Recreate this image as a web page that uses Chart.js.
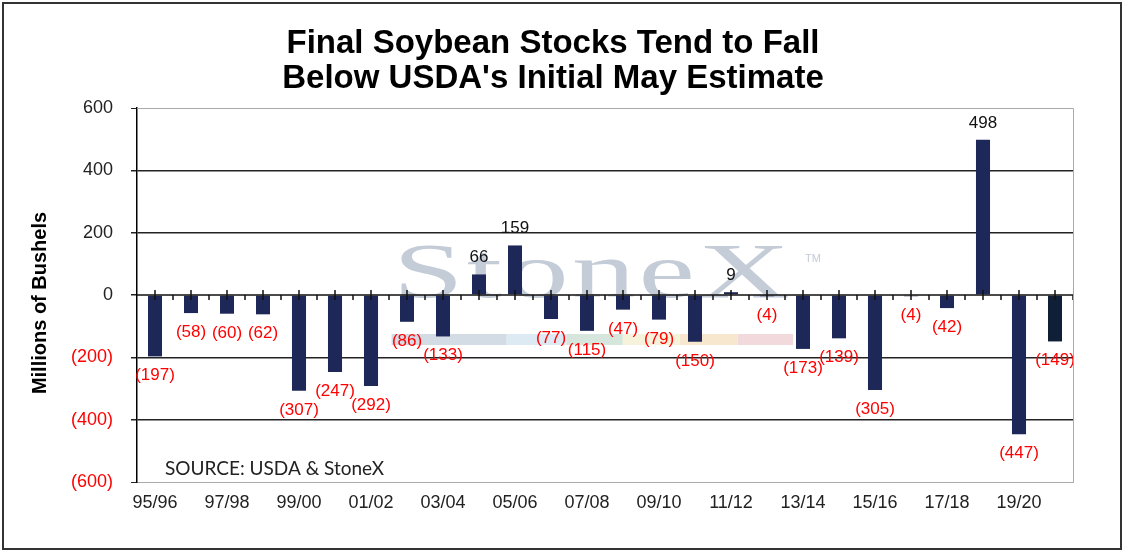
<!DOCTYPE html>
<html>
<head>
<meta charset="utf-8">
<script src="https://cdn.jsdelivr.net/npm/chart.js@4"></script>
<style>
  html, body { margin: 0; padding: 0; background: #fff; }
  #wrap { width: 1127px; height: 555px; position: relative; }
</style>
</head>
<body>
<div id="wrap"><canvas id="stocksChart"></canvas></div>
<script>
// marketing years, final stocks minus USDA's initial May estimate (mil bu)
const seasons = ['95/96', '96/97', '97/98', '98/99', '99/00', '00/01', '01/02', '02/03', '03/04',
  '04/05', '05/06', '06/07', '07/08', '08/09', '09/10', '10/11', '11/12', '12/13', '13/14',
  '14/15', '15/16', '16/17', '17/18', '18/19', '19/20', '20/21'];
const finalVsMay = [-197, -58, -60, -62, -307, -247, -292, -86, -133,
  66, 159, -77, -115, -47, -79, -150, 9, -4, -173,
  -139, -305, -4, -42, 498, -447, -149];
const yTickValues = [-600, -400, -200, 0, 200, 400, 600];

const ARIAL = "'Liberation Sans', Arial, sans-serif";
const BAR = '#1e2858';
const RED = '#ff0000';

function fmt(v) {
  return v < 0 ? '(' + (-v) + ')' : String(v);
}

// watermark + faint colour strip behind the bars
const watermark = {
  id: 'watermark',
  beforeDatasetsDraw(chart) {
    const { ctx, chartArea: a } = chart;
    const w = a.right - a.left;
    ctx.save();
    const strip = ['#d3dbe5', '#dde9f3', '#d6e6dd', '#f6f3dc', '#f8e7cf', '#f1d9dc'];
    const edges = [0.272, 0.395, 0.459, 0.519, 0.580, 0.642, 0.701];
    strip.forEach((c, i) => {
      ctx.fillStyle = c;
      ctx.fillRect(a.left + edges[i] * w, 334, (edges[i + 1] - edges[i]) * w, 11);
    });
    ctx.fillStyle = '#c4ccd8';
    ctx.font = "78px 'Liberation Serif', 'DejaVu Serif', serif";
    ctx.letterSpacing = '2px';
    const tw = ctx.measureText('StoneX').width;
    ctx.translate(393, 297);
    ctx.scale(400 / tw, 1);
    ctx.textBaseline = 'alphabetic';
    ctx.fillText('StoneX', 0, 0);
    ctx.restore();
    ctx.save();
    ctx.fillStyle = '#c4ccd8';
    ctx.font = '11px ' + ARIAL;
    ctx.fillText('TM', 805, 262);
    ctx.restore();
  }
};

// zero axis line with category ticks, and value labels
const zeroAxis = {
  id: 'zeroAxis',
  afterDatasetsDraw(chart) {
    const { ctx, chartArea: a, scales: { x, y } } = chart;
    const y0 = y.getPixelForValue(0);
    const half = (x.getPixelForValue(1) - x.getPixelForValue(0)) / 2;
    ctx.save();
    ctx.strokeStyle = '#111';
    ctx.lineWidth = 1.5;
    ctx.beginPath();
    ctx.moveTo(a.left, y0);
    ctx.lineTo(a.right, y0);
    seasons.forEach((s, i) => {
      const cx = x.getPixelForValue(i);
      ctx.moveTo(cx, y0 - 5);
      ctx.lineTo(cx, y0 + 5);
      ctx.moveTo(cx + half, y0);
      ctx.lineTo(cx + half, y0 + 5);
    });
    ctx.stroke();

    ctx.font = '17px ' + ARIAL;
    ctx.textAlign = 'center';
    ctx.textBaseline = 'alphabetic';
    const meta = chart.getDatasetMeta(0);
    meta.data.forEach((bar, i) => {
      const v = finalVsMay[i];
      if (v >= 0) {
        ctx.fillStyle = '#111';
        ctx.fillText(fmt(v), bar.x, bar.y - 12);
      } else {
        ctx.fillStyle = RED;
        ctx.fillText(fmt(v), bar.x, bar.y + 24);
      }
    });
    ctx.restore();
  }
};

// titles, plot frame, source note and outer border
const decor = {
  id: 'decor',
  afterDraw(chart) {
    const { ctx, chartArea: a } = chart;
    ctx.save();
    ctx.strokeStyle = '#aaa';
    ctx.lineWidth = 1;
    ctx.beginPath();
    ctx.moveTo(a.left, a.top + 0.5);
    ctx.lineTo(a.right + 0.5, a.top + 0.5);
    ctx.lineTo(a.right + 0.5, a.bottom);
    ctx.stroke();

    ctx.fillStyle = '#000';
    ctx.textAlign = 'center';
    ctx.textBaseline = 'alphabetic';
    ctx.font = 'bold 33px ' + ARIAL;
    ctx.fillText('Final Soybean Stocks Tend to Fall', 553, 53);
    ctx.fillText("Below USDA's Initial May Estimate", 553, 88);

    ctx.save();
    ctx.textBaseline = 'middle';
    ctx.translate(40, 303);
    ctx.rotate(-Math.PI / 2);
    ctx.font = 'bold 20px ' + ARIAL;
    ctx.fillText('Millions of Bushels', 0, 0);
    ctx.restore();

    ctx.textAlign = 'left';
    ctx.textBaseline = 'middle';
    ctx.fillStyle = '#222';
    ctx.font = "19px Lato, 'Open Sans', sans-serif";
    ctx.fillText('SOURCE: USDA & StoneX', 165, 469);

    ctx.strokeStyle = '#333';
    ctx.lineWidth = 2;
    ctx.strokeRect(3, 3, 1118, 546);
    ctx.restore();
  }
};

const ctx = document.getElementById('stocksChart').getContext('2d');
const stocksChart = new Chart(ctx, {
  type: 'bar',
  data: {
    labels: seasons,
    datasets: [{
      label: 'Final vs May estimate',
      data: finalVsMay,
      backgroundColor: seasons.map((s, i) => i === seasons.length - 1 ? '#0f1f38' : BAR),
      categoryPercentage: 1,
      barPercentage: 0.39
    }]
  },
  options: {
    responsive: true,
    maintainAspectRatio: false,
    animation: false,
    layout: { padding: { top: 108, right: 54, bottom: 0, left: 0 } },
    plugins: {
      legend: { display: false },
      title: { display: false },
      tooltip: { enabled: false }
    },
    scales: {
      x: {
        grid: { display: false, drawTicks: false },
        border: { color: '#aaa', width: 1 },
        ticks: {
          autoSkip: false,
          maxRotation: 0,
          padding: 10,
          color: '#222',
          font: { family: ARIAL, size: 18 },
          callback: (v, i) => i % 2 === 0 ? seasons[i] : ''
        },
        afterFit: s => { s.height = 73; }
      },
      y: {
        min: -600,
        max: 600,
        afterBuildTicks: s => { s.ticks = yTickValues.map(v => ({ value: v })); },
        border: { color: '#000', width: 1.5 },
        grid: {
          color: c => c.tick.value === 0 ? 'rgba(0,0,0,0)' : (Math.abs(c.tick.value) === 600 ? '#aaa' : '#222'),
          lineWidth: c => Math.abs(c.tick.value) === 600 ? 1 : 1.5,
          tickColor: '#222',
          tickLength: 6
        },
        ticks: {
          padding: 18,
          color: c => c.tick.value < 0 ? RED : '#222',
          font: { family: ARIAL, size: 18 },
          callback: v => fmt(v)
        },
        afterFit: s => { s.width = 137; }
      }
    }
  },
  plugins: [watermark, zeroAxis, decor]
});
</script>
</body>
</html>
